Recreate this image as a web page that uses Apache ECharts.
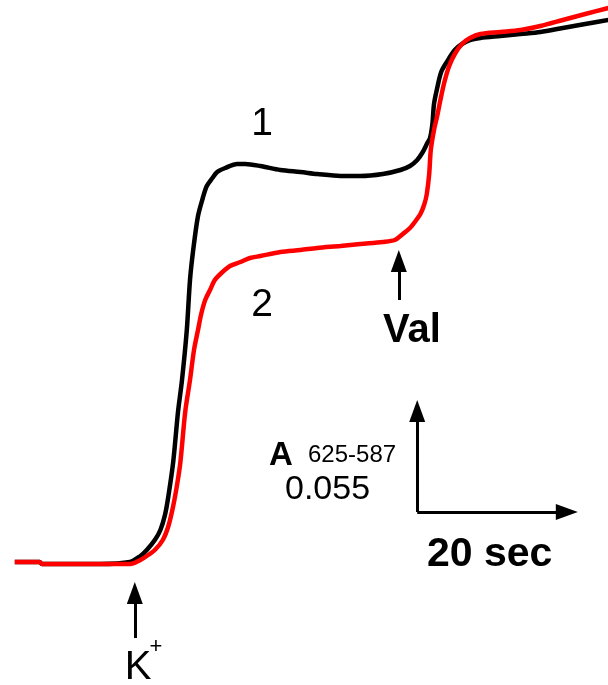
<!DOCTYPE html>
<html>
<head>
<meta charset="utf-8">
<script src="https://cdn.jsdelivr.net/npm/echarts@6/dist/echarts.min.js"></script>
<style>
  html, body { margin: 0; padding: 0; background: #fff; }
  #main { width: 608px; height: 685px; }
</style>
</head>
<body>
<div id="main"></div>
<script type="text/javascript">
    // time in sec after K+ addition, absorbance A625-587 above baseline
    var tBlack = [-14.4, -11.3, -11.0, -3.8, 0, 1.3, 2.1, 3.1, 3.8, 4.4, 4.8, 5.4, 6.0, 6.5, 7.1, 7.5, 7.9, 8.5, 9.1, 9.6, 10.3, 10.9, 11.9, 13.4, 14.4, 16.3, 18.8, 21.3, 23.4, 26.3, 28.8, 31.6, 33.8, 35.0, 35.9, 36.6, 37.1, 37.5, 37.8, 38.0, 38.4, 38.9, 39.6, 40.6, 41.5, 42.5, 43.8, 46.3, 48.8, 51.3, 54.1, 56.9, 59.8];
    var aBlack = [0, 0, -0.001, -0.001, 0.000, 0.003, 0.006, 0.011, 0.016, 0.024, 0.033, 0.050, 0.075, 0.091, 0.116, 0.141, 0.156, 0.173, 0.182, 0.188, 0.192, 0.195, 0.197, 0.199, 0.199, 0.198, 0.196, 0.195, 0.194, 0.193, 0.193, 0.194, 0.196, 0.198, 0.201, 0.205, 0.209, 0.212, 0.219, 0.229, 0.237, 0.245, 0.250, 0.256, 0.259, 0.261, 0.262, 0.263, 0.264, 0.265, 0.267, 0.269, 0.271];

    var tRed = [-14.4, -11.3, -11.0, -3.8, 0, 1.3, 2.1, 3.1, 4.1, 4.8, 5.4, 5.9, 6.3, 6.9, 7.5, 8.0, 8.5, 8.9, 9.4, 10.0, 10.6, 11.3, 12.5, 13.8, 15.0, 16.3, 18.8, 21.3, 23.4, 26.3, 28.8, 31.6, 33.1, 34.1, 35.0, 35.6, 36.3, 36.8, 37.1, 37.4, 37.6, 38.0, 38.4, 38.8, 39.3, 39.9, 40.6, 41.5, 42.5, 43.8, 46.3, 48.8, 51.3, 54.1, 56.9, 59.8];
    var aRed = [0, 0, -0.001, -0.001, -0.001, 0.001, 0.003, 0.006, 0.011, 0.018, 0.028, 0.039, 0.050, 0.075, 0.091, 0.106, 0.116, 0.124, 0.131, 0.136, 0.141, 0.144, 0.148, 0.150, 0.152, 0.153, 0.155, 0.156, 0.157, 0.158, 0.159, 0.160, 0.161, 0.164, 0.167, 0.170, 0.174, 0.179, 0.184, 0.194, 0.206, 0.216, 0.223, 0.231, 0.240, 0.248, 0.254, 0.259, 0.262, 0.264, 0.265, 0.266, 0.268, 0.271, 0.274, 0.277];

    // arrows: [t, from A, to A]
    var kArrow = [0.6, -0.038, -0.0155];
    var valArrow = [33.6, 0.131, 0.1505];
    // scale bar corner and arrow ends
    var barT = [35.9, 54.6];
    var barA = [0.025, 0.0755];

    var toPairs = function(ts, as){
        var out = [];
        for (var i = 0; i < ts.length; i++) out.push([ts[i], as[i]]);
        return out;
    };

    var myChart = echarts.init(document.getElementById('main'));
    var font = '"Liberation Sans", Arial, sans-serif';

    var txt = function(text, x, y, size, bold, align){
        return {
            type: 'text',
            style: {
                text: text, x: x, y: y,
                font: (bold ? 'bold ' : '') + size + 'px ' + font,
                fill: '#000',
                textAlign: align || 'center',
                textVerticalAlign: 'middle'
            },
            silent: true
        };
    };

    var option = {
        animation: false,
        grid: { left: 0, right: 0, top: 0, bottom: 0 },
        xAxis: { type: 'value', min: -16.25, max: 59.75, show: false },
        yAxis: { type: 'value', min: -0.0615, max: 0.281, show: false },
        series: [{
            type: 'line',
            data: toPairs(tBlack, aBlack),
            symbol: 'none',
            smooth: 0.3,
            lineStyle: { color: '#000', width: 4.5 },
            z: 2,
            markLine: {
                silent: true,
                symbol: ['none', 'triangle'],
                symbolSize: [16, 22],
                label: { show: false },
                lineStyle: { color: '#000', width: 3, type: 'solid' },
                emphasis: { disabled: true },
                data: [
                    [{ coord: [kArrow[0], kArrow[1]] }, { coord: [kArrow[0], kArrow[2]] }],
                    [{ coord: [valArrow[0], valArrow[1]] }, { coord: [valArrow[0], valArrow[2]] }],
                    [{ coord: [barT[0], barA[0]] }, { coord: [barT[0], barA[1]] }],
                    [{ coord: [barT[0], barA[0]] }, { coord: [barT[1], barA[0]] }]
                ]
            }
        }, {
            type: 'line',
            data: toPairs(tRed, aRed),
            symbol: 'none',
            smooth: 0.3,
            lineStyle: { color: '#ff0000', width: 4.5 },
            z: 3
        }],
        graphic: [
            txt('1', 262, 124, 39, false),
            txt('2', 262, 305, 39, false),
            txt('Val', 412, 331, 40, true),
            txt('K', 138, 668, 40, false),
            txt('+', 156, 647, 22, false),
            txt('A', 269, 456, 33, true, 'left'),
            txt('625-587', 308, 455, 24, false, 'left'),
            txt('0.055', 285, 490, 34, false, 'left'),
            txt('20 sec', 427, 555, 41, true, 'left')
        ]
    };
    myChart.setOption(option);
</script>
</body>
</html>
